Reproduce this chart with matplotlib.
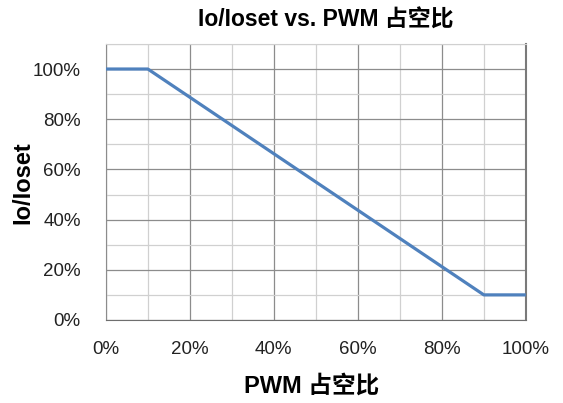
import matplotlib
matplotlib.use("Agg")
import matplotlib.pyplot as plt
from matplotlib.ticker import MultipleLocator, FuncFormatter

plt.rcParams['font.family'] = ['Liberation Sans', 'Noto Sans CJK SC', 'DejaVu Sans']

duty = [0, 10, 90, 100]          # PWM duty cycle, %
ratio = [100, 100, 10, 10]       # Io/Ioset, %
title = "Io/Ioset vs. PWM 占空比"
xlabel = "PWM 占空比"
ylabel = "Io/Ioset"

fig = plt.figure(figsize=(5.63, 4.03), dpi=100)
ax = fig.add_axes([0.188, 0.206, 0.746, 0.685])

ax.plot(duty, ratio, color='#4F81BD', lw=2.3, solid_capstyle='butt', zorder=3)

ax.set_xlim(0, 100)
ax.set_ylim(0, 110)
ax.xaxis.set_major_locator(MultipleLocator(20))
ax.xaxis.set_minor_locator(MultipleLocator(10))
ax.set_yticks([0, 20, 40, 60, 80, 100])
ax.yaxis.set_minor_locator(MultipleLocator(10))
fmt = FuncFormatter(lambda v, p: f"{v:.0f}%")
ax.xaxis.set_major_formatter(fmt)
ax.yaxis.set_major_formatter(fmt)

ax.grid(which='major', color='#8c8c8c', lw=0.9)
ax.grid(which='minor', color='#d0d0d0', lw=0.9)
ax.set_axisbelow(True)
ax.tick_params(which='both', length=0)
ax.tick_params(axis='x', labelsize=13.5, pad=15, colors='#222222')
ax.tick_params(axis='y', labelsize=13.5, pad=18, colors='#222222')

ax.spines['left'].set_color('#8c8c8c')
ax.spines['bottom'].set_color('#6e6e6e')
ax.spines['right'].set_color('#7a7a7a')
ax.spines['right'].set_linewidth(1.5)
ax.spines['top'].set_color('#d0d0d0')

fig.text(326 / 563, 1 - 20 / 403, title, fontsize=16.5, fontweight='bold',
         ha='center', va='center')
fig.text(312 / 563, 1 - 386 / 403, xlabel, fontsize=17, fontweight='bold',
         ha='center', va='center')
fig.text(23 / 563, 1 - 183 / 403, ylabel, fontsize=17, fontweight='bold',
         ha='center', va='center', rotation=90)

fig.savefig("out.png", dpi=100, facecolor='white')
